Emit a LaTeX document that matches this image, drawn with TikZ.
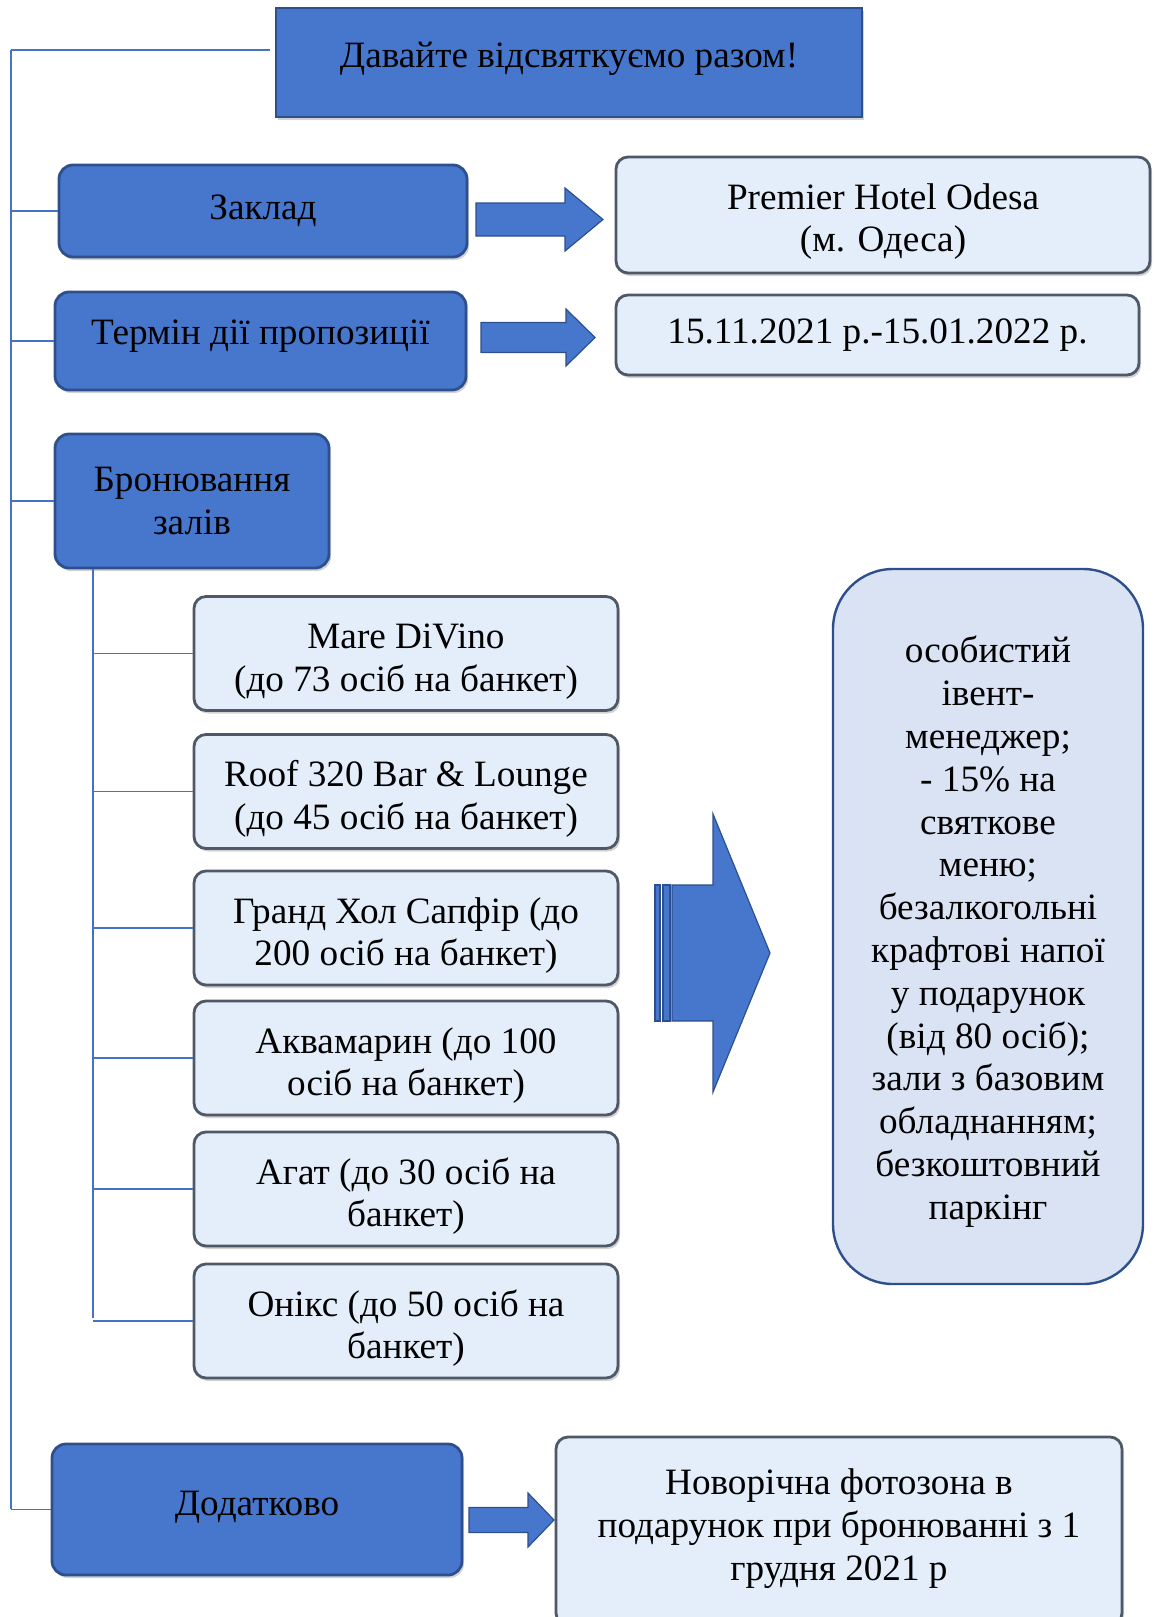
\documentclass[tikz,border=0pt]{standalone}
\usepackage{fontspec}
\setmainfont{Liberation Serif}
\usetikzlibrary{positioning, shadows}
\definecolor{hotelblue}{HTML}{4677CD}
\definecolor{hoteledge}{HTML}{2D4F8C}
\definecolor{hotelpale}{HTML}{E4EEFB}
\definecolor{hotelgrey}{HTML}{4E5866}
\definecolor{hotelperk}{HTML}{DAE3F3}
\definecolor{hotelline}{HTML}{4472C4}
\newcommand{\hotelfont}{\fontsize{18.6pt}{21.4pt}\selectfont}
% text block moved up or down inside its box
\newcommand{\nudge}[2]{\raisebox{#1}[\height][\depth]{\begin{tabular}{@{}c@{}}#2\end{tabular}}}
% block arrow: tail x, head base x, tip x, centre y, shaft half, head half
\newcommand{\blockarrow}[6]{%
  \draw[arrowfill] ({#1},{#4-#5}) -- ({#2},{#4-#5}) -- ({#2},{#4-#6}) -- ({#3},{#4})
    -- ({#2},{#4+#6}) -- ({#2},{#4+#5}) -- ({#1},{#4+#5}) -- cycle;}
\tikzset{
  darkbox/.style={rounded corners=7pt, fill=hotelblue, draw=hoteledge, line width=1.4pt,
    align=center, inner sep=2pt, font=\hotelfont,
    drop shadow={shadow xshift=1pt, shadow yshift=-1.5pt, opacity=.35}},
  palebox/.style={rounded corners=6pt, fill=hotelpale, draw=hotelgrey, line width=1.4pt,
    align=center, inner sep=2pt, font=\hotelfont,
    drop shadow={shadow xshift=1pt, shadow yshift=-1.5pt, opacity=.35}},
  branch/.style={draw=hotelline, line width=.7pt},
  arrowfill/.style={fill=hotelblue, draw=hoteledge, line width=.6pt, line join=miter},
}
\begin{document}
\begin{tikzpicture}[x=0.5pt, y=-0.5pt]
  \useasboundingbox (0,0) rectangle (1153,1617);
  \node[darkbox, rounded corners=0pt, minimum width=293pt, minimum height=54.5pt] (title) at (569,62.5) {\nudge{2pt}{Давайте відсвяткуємо разом!}};
  \node[darkbox, minimum width=204pt, minimum height=46pt] (zaklad) at (263,211) {Заклад};
  \node[palebox, minimum width=267pt, minimum height=58pt] (premier) at (883,215) {\nudge{-3.5pt}{Premier Hotel Odesa\\(м. Одеса)}};
  \node[darkbox, minimum width=205.5pt, minimum height=49pt] (termin) at (260.5,341) {\nudge{2.5pt}{Термін дії пропозиції}};
  \node[palebox, minimum width=261.5pt, minimum height=40pt] (date) at (877.5,335) {15.11.2021 р.-15.01.2022 р.};
  \node[darkbox, minimum width=137pt, minimum height=67pt] (bron) at (192,501) {Бронювання\\залів};
  \foreach \n/\y/\t in {1/653.5/{Mare DiVino\\(до 73 осіб на банкет)},
      2/791.5/{Roof 320 Bar \& Lounge\\(до 45 осіб на банкет)},
      3/928/{Гранд Хол Сапфір (до\\200 осіб на банкет)},
      4/1058/{Аквамарин (до 100\\осіб на банкет)},
      5/1189/{Агат (до 30 осіб на\\банкет)},
      6/1321/{Онікс (до 50 осіб на\\банкет)}}{
    \node[palebox, minimum width=212pt, minimum height=57pt] (hall\n) at (406,\y) {\nudge{-4pt}{\t}};
  }
  \node[rounded corners=30pt, fill=hotelperk, draw=hoteledge, line width=1.2pt, align=center,
    font=\hotelfont, minimum width=155pt, minimum height=357.5pt] (perks) at (988,926.5)
    {\nudge{-3pt}{особистий\\івент-\\менеджер;\\- 15\% на\\святкове\\меню;\\безалкогольні\\крафтові напої\\у подарунок\\(від 80 осіб);\\зали з базовим\\обладнанням;\\безкоштовний\\паркінг}};
  \node[darkbox, minimum width=205pt, minimum height=65.5pt] (extra) at (257,1509.5) {\nudge{1.5pt}{Додатково}};
  \node[palebox, minimum width=283pt, minimum height=94pt] (gift) at (839,1531) {\nudge{1pt}{Новорічна фотозона в\\подарунок при бронюванні з 1\\грудня 2021 р}};

  \coordinate (trunk) at (11,50);
  \coordinate (trunkend) at (11,1509);
  \coordinate (titlein) at (270,50);
  \coordinate (trunkin) at (93,1318);
  \draw[branch] (trunk) -- (trunkend);
  \draw[branch] (trunk) -- (titlein);
  \foreach \b in {zaklad, termin, bron, extra}
    \draw[branch] (\b.west -| trunk) -- (\b.west);
  \draw[branch] (bron.south -| trunkin) -- (trunkin);
  \foreach \n in {1,...,6}
    \draw[branch] (hall\n.west -| trunkin) -- (hall\n.west);

  \blockarrow{476}{565}{603}{219.5}{16.5}{31.5}
  \blockarrow{481}{566}{595}{337.5}{15}{28.5}
  \blockarrow{469}{528}{554}{1520}{12.5}{27}
  \blockarrow{672}{713}{770}{953}{68}{139}
  \draw[arrowfill] (655,885) rectangle (660,1021);
  \draw[arrowfill] (663,885) rectangle (670,1021);
\end{tikzpicture}
\end{document}
